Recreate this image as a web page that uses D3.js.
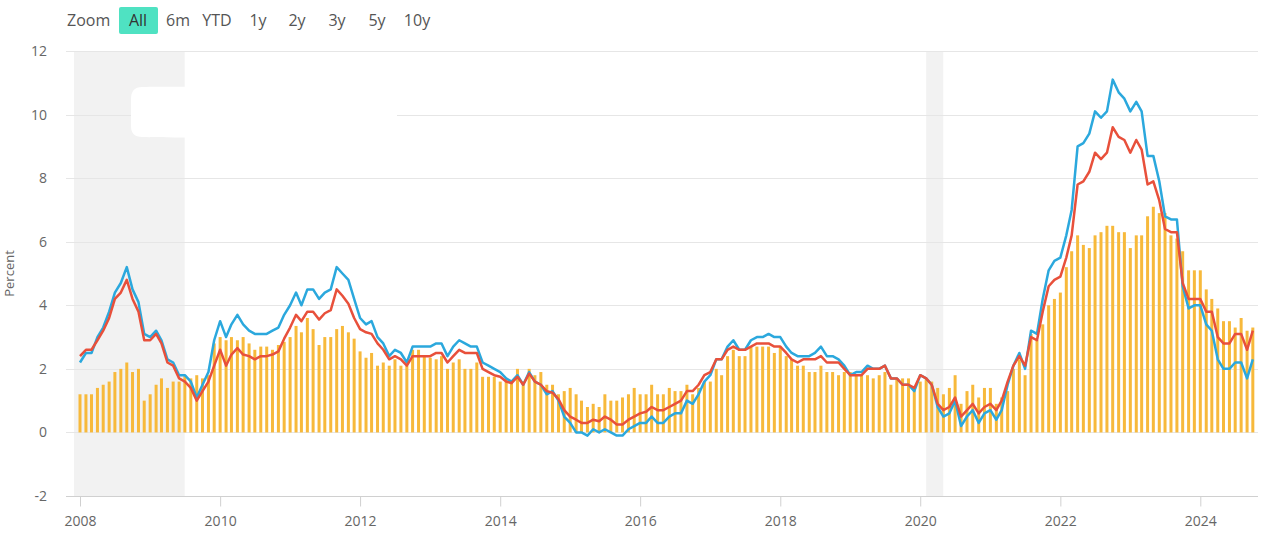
<!DOCTYPE html>
<html>
<head>
<meta charset="utf-8">
<script src="https://cdn.jsdelivr.net/npm/d3@7"></script>
<style>
  html, body { margin: 0; padding: 0; background: #fff; }
  svg { display: block; font-family: "Open Sans", "Noto Sans", sans-serif; }
</style>
</head>
<body>
<div id="chart"></div>
<script>
// Данные: помесячно, январь 2008 – октябрь 2024
const startMonth = new Date(2008, 0, 1);

// CPI (синяя линия)
const cpi = [
  2.2,2.5,2.5,3.0,3.3,3.8,4.4,4.7,5.2,4.5,4.1,3.1,
  3.0,3.2,2.9,2.3,2.2,1.8,1.8,1.6,1.1,1.5,1.9,2.9,
  3.5,3.0,3.4,3.7,3.4,3.2,3.1,3.1,3.1,3.2,3.3,3.7,
  4.0,4.4,4.0,4.5,4.5,4.2,4.4,4.5,5.2,5.0,4.8,4.2,
  3.6,3.4,3.5,3.0,2.8,2.4,2.6,2.5,2.2,2.7,2.7,2.7,
  2.7,2.8,2.8,2.4,2.7,2.9,2.8,2.7,2.7,2.2,2.1,2.0,
  1.9,1.7,1.6,1.8,1.5,1.9,1.6,1.5,1.2,1.3,1.0,0.5,
  0.3,0.0,0.0,-0.1,0.1,0.0,0.1,0.0,-0.1,-0.1,0.1,0.2,
  0.3,0.3,0.5,0.3,0.3,0.5,0.6,0.6,1.0,0.9,1.2,1.6,
  1.8,2.3,2.3,2.7,2.9,2.6,2.6,2.9,3.0,3.0,3.1,3.0,
  3.0,2.7,2.5,2.4,2.4,2.4,2.5,2.7,2.4,2.4,2.3,2.1,
  1.8,1.9,1.9,2.1,2.0,2.0,2.1,1.7,1.7,1.5,1.5,1.3,
  1.8,1.7,1.5,0.8,0.5,0.6,1.0,0.2,0.5,0.7,0.3,0.6,
  0.7,0.4,0.7,1.5,2.1,2.5,2.0,3.2,3.1,4.2,5.1,5.4,
  5.5,6.2,7.0,9.0,9.1,9.4,10.1,9.9,10.1,11.1,10.7,10.5,
  10.1,10.4,10.1,8.7,8.7,7.9,6.8,6.7,6.7,4.6,3.9,4.0,
  4.0,3.4,3.2,2.3,2.0,2.0,2.2,2.2,1.7,2.3
];

// CPIH (красная линия)
const cpih = [
  2.4,2.6,2.6,2.9,3.2,3.6,4.2,4.4,4.8,4.2,3.8,2.9,
  2.9,3.1,2.8,2.2,2.1,1.7,1.6,1.4,1.0,1.3,1.6,2.1,
  2.6,2.1,2.45,2.65,2.45,2.4,2.3,2.4,2.4,2.45,2.55,2.95,
  3.3,3.7,3.5,3.8,3.8,3.55,3.75,3.85,4.5,4.3,4.05,3.6,
  3.25,3.15,3.1,2.8,2.6,2.3,2.4,2.3,2.1,2.4,2.4,2.4,
  2.4,2.5,2.5,2.2,2.4,2.6,2.5,2.5,2.5,2.0,1.9,1.8,
  1.75,1.6,1.55,1.75,1.5,1.85,1.6,1.5,1.3,1.25,1.05,0.7,
  0.5,0.4,0.3,0.3,0.4,0.35,0.5,0.4,0.25,0.25,0.4,0.5,
  0.6,0.65,0.8,0.7,0.7,0.8,0.9,1.0,1.3,1.3,1.5,1.8,
  1.9,2.3,2.3,2.6,2.7,2.6,2.6,2.7,2.8,2.8,2.8,2.7,
  2.7,2.5,2.3,2.2,2.3,2.3,2.3,2.4,2.2,2.2,2.2,2.0,
  1.8,1.8,1.8,2.0,2.0,2.0,2.1,1.7,1.7,1.5,1.5,1.4,
  1.8,1.7,1.5,0.9,0.7,0.8,1.1,0.5,0.7,0.9,0.6,0.8,
  0.9,0.7,1.0,1.6,2.1,2.4,2.1,3.0,2.9,3.8,4.6,4.8,
  4.9,5.5,6.2,7.8,7.9,8.2,8.8,8.6,8.8,9.6,9.3,9.2,
  8.8,9.2,8.9,7.8,7.9,7.3,6.4,6.3,6.3,4.7,4.2,4.2,
  4.2,3.8,3.8,3.0,2.8,2.8,3.1,3.1,2.6,3.2
];

// Базовая инфляция (столбцы)
const core = [
  1.2,1.2,1.2,1.4,1.5,1.6,1.9,2.0,2.2,1.9,2.0,1.0,
  1.2,1.5,1.7,1.4,1.6,1.6,1.8,1.7,1.8,1.7,1.8,2.8,
  3.0,2.9,3.0,2.9,3.0,2.8,2.6,2.7,2.7,2.6,2.75,2.85,
  3.0,3.35,3.15,3.6,3.25,2.75,3.0,3.0,3.25,3.35,3.15,2.95,
  2.55,2.35,2.5,2.1,2.2,2.1,2.3,2.1,2.1,2.6,2.6,2.4,
  2.35,2.3,2.4,2.0,2.2,2.3,2.0,2.0,2.2,1.75,1.75,1.75,
  1.6,1.7,1.6,2.0,1.6,2.0,1.8,1.9,1.5,1.5,1.2,1.3,
  1.4,1.2,1.0,0.8,0.9,0.8,1.2,1.0,1.0,1.1,1.2,1.4,
  1.2,1.2,1.5,1.2,1.2,1.4,1.3,1.3,1.5,1.2,1.4,1.6,
  1.6,2.0,1.8,2.4,2.6,2.4,2.4,2.7,2.7,2.7,2.7,2.5,
  2.7,2.4,2.3,2.1,2.1,1.9,1.9,2.1,1.9,1.9,1.8,1.9,
  1.9,1.8,1.8,1.8,1.7,1.8,1.9,1.5,1.7,1.7,1.7,1.4,
  1.6,1.7,1.6,1.4,1.2,1.4,1.8,0.9,1.3,1.5,1.1,1.4,
  1.4,0.9,1.1,1.3,2.0,2.3,1.8,3.1,2.9,3.4,4.0,4.2,
  4.4,5.2,5.7,6.2,5.9,5.8,6.2,6.3,6.5,6.5,6.3,6.3,
  5.8,6.2,6.2,6.8,7.1,6.9,6.9,6.2,6.1,5.7,5.1,5.1,
  5.1,4.5,4.2,3.9,3.5,3.5,3.3,3.6,3.2,3.3
];

// Подписи осей и кнопки
const yTicks = [-2, 0, 2, 4, 6, 8, 10, 12];
const xTickYears = [2008, 2010, 2012, 2014, 2016, 2018, 2020, 2022, 2024];
const zoomButtons = ['All', '6m', 'YTD', '1y', '2y', '3y', '5y', '10y'];
const recessions = [
  [new Date(2007, 11, 1), new Date(2009, 5, 30)],
  [new Date(2020, 1, 1), new Date(2020, 3, 30)]
];

const width = 1261;
const height = 535;
const plot = { left: 66, right: 1258, top: 51, bottom: 496 };

const months = cpi.map((d, i) => d3.timeMonth.offset(startMonth, i));

const svg = d3.select('#chart')
    .append('svg')
    .attr('width', width)
    .attr('height', height);

// Шкалы
const x = d3.scaleTime()
    .domain([new Date(2008, 0, 1), new Date(2024, 0, 1)])
    .range([80, 1200.3]);

const y = d3.scaleLinear()
    .domain([-2, 12])
    .range([plot.bottom, plot.top]);

svg.append('clipPath').attr('id', 'plot-clip')
    .append('rect')
    .attr('x', plot.left).attr('y', plot.top - 5)
    .attr('width', plot.right - plot.left)
    .attr('height', plot.bottom - plot.top + 5);

// Полосы рецессий
svg.append('g')
    .attr('clip-path', 'url(#plot-clip)')
    .selectAll('rect')
    .data(recessions)
    .enter().append('rect')
    .attr('x', d => x(d[0]))
    .attr('y', plot.top)
    .attr('width', d => x(d[1]) - x(d[0]))
    .attr('height', plot.bottom - plot.top)
    .attr('fill', '#f2f2f2');

// Сетка по Y
svg.append('g')
    .selectAll('line')
    .data(yTicks.filter(t => t !== -2))
    .enter().append('line')
    .attr('x1', plot.left).attr('x2', plot.right)
    .attr('y1', d => Math.round(y(d)) + 0.5)
    .attr('y2', d => Math.round(y(d)) + 0.5)
    .attr('stroke', '#e6e6e6')
    .attr('stroke-width', 1);

// Белое пятно поверх полосы (как на исходной картинке)
svg.append('path')
    .attr('d', 'M142,87 C170,86 300,88 397,89 V136 C300,137 170,138 142,137 Q131,137 131,126 V99 Q131,87 142,87 Z')
    .attr('fill', '#fff');

// Ось X
const xAxis = d3.axisBottom(x)
    .tickValues(xTickYears.map(yr => new Date(yr, 0, 1)))
    .tickFormat(d3.timeFormat('%Y'))
    .tickSize(10)
    .tickPadding(10);

const gx = svg.append('g')
    .attr('transform', `translate(0,${plot.bottom + 0.5})`)
    .call(xAxis);
gx.select('.domain')
    .attr('d', `M${plot.left},0H${plot.right}`)
    .attr('stroke', '#d0d0d0');
gx.selectAll('.tick line').attr('stroke', '#d0d0d0');
gx.selectAll('.tick text')
    .attr('fill', '#666')
    .style('font-size', '14px')
    .style('font-family', '"Open Sans", "Noto Sans", sans-serif');

// Подписи по Y
svg.append('g')
    .selectAll('text')
    .data(yTicks)
    .enter().append('text')
    .attr('x', 47)
    .attr('y', d => y(d) + 5)
    .attr('text-anchor', 'end')
    .attr('fill', '#666')
    .style('font-size', '14px')
    .text(d => d);

svg.append('text')
    .attr('transform', `translate(14,${(plot.top + plot.bottom) / 2}) rotate(-90)`)
    .attr('text-anchor', 'middle')
    .attr('fill', '#666')
    .style('font-size', '13px')
    .text('Percent');

const dataGroup = svg.append('g').attr('clip-path', 'url(#plot-clip)');

// Столбцы базовой инфляции
const barWidth = 3;
dataGroup.selectAll('.bar')
    .data(core)
    .enter().append('rect')
    .attr('class', 'bar')
    .attr('x', (d, i) => x(months[i]) - barWidth / 2)
    .attr('y', d => Math.min(y(d), y(0)))
    .attr('width', barWidth)
    .attr('height', d => Math.abs(y(0) - y(d)))
    .attr('fill', '#f7b93b');

// Линии CPI и CPIH
const line = d3.line()
    .x((d, i) => x(months[i]))
    .y(d => y(d));

dataGroup.append('path')
    .datum(cpi)
    .attr('d', line)
    .attr('fill', 'none')
    .attr('stroke', '#2ba8dd')
    .attr('stroke-width', 2.5)
    .attr('stroke-linejoin', 'round');

dataGroup.append('path')
    .datum(cpih)
    .attr('d', line)
    .attr('fill', 'none')
    .attr('stroke', '#e8503b')
    .attr('stroke-width', 2.5)
    .attr('stroke-linejoin', 'round');

// Кнопки масштаба сверху
svg.append('text')
    .attr('x', 67)
    .attr('y', 26)
    .attr('fill', '#555')
    .style('font-size', '16px')
    .text('Zoom');

const btnCenters = [138, 178, 217, 258, 297, 337, 377, 417];
const btn = svg.append('g')
    .selectAll('g')
    .data(zoomButtons)
    .enter().append('g');

btn.filter((d, i) => i === 0)
    .append('rect')
    .attr('x', 119).attr('y', 7)
    .attr('width', 39).attr('height', 27)
    .attr('rx', 2)
    .attr('fill', '#4fe2c2');

btn.append('text')
    .attr('x', (d, i) => btnCenters[i])
    .attr('y', 26)
    .attr('text-anchor', 'middle')
    .attr('fill', (d, i) => i === 0 ? '#333' : '#555')
    .style('font-size', '16px')
    .text(d => d);
</script>
</body>
</html>
